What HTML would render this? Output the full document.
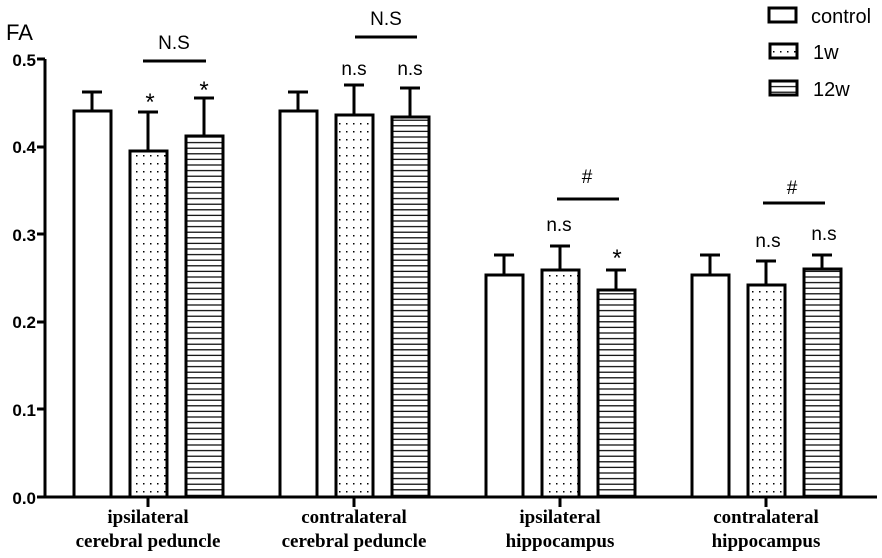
<!DOCTYPE html>
<html><head><style>body{margin:0;background:#fff}svg{display:block}</style></head><body>
<svg width="882" height="558" viewBox="0 0 882 558" xmlns="http://www.w3.org/2000/svg">
<defs>
<pattern id="dots" width="7" height="8" patternUnits="userSpaceOnUse"><rect width="7" height="8" fill="#fff"/><rect x="3" y="3" width="1.5" height="1.5" fill="#000"/></pattern>
<pattern id="stripes" width="8" height="5.6" patternUnits="userSpaceOnUse"><rect width="8" height="5.6" fill="#fff"/><rect y="2" width="8" height="1.2" fill="#000"/></pattern>
</defs>
<g font-family="Liberation Sans, Arial, sans-serif" fill="#000">
<text x="6" y="40" font-size="22">FA</text>
<g font-size="17" font-weight="bold" text-anchor="end">
<text x="36" y="66">0.5</text><text x="36" y="153">0.4</text><text x="36" y="241">0.3</text><text x="36" y="328">0.2</text><text x="36" y="416">0.1</text><text x="36" y="504">0.0</text>
</g>
</g>
<g stroke="#000" stroke-width="3" fill="none">
<path d="M45 59V497H877"/>
<path d="M37 59H45M37 147H45M37 234H45M37 322H45M37 409H45M37 497H45"/>
<path d="M148 497V507M354 497V507M560 497V507M766 497V507"/>
</g>
<g stroke="#000" stroke-width="3">
<path d="M92 111V92M82 92H102 M148 151V112M138 112H158 M204 136V98M194 98H214
M298 111V92M288 92H308 M354 115V85M344 85H364 M410 117V88M400 88H420
M504 275V255M494 255H514 M560 270V246M550 246H570 M616 290V270M606 270H626
M710 275V255M700 255H720 M766 285V261M756 261H776 M822 269V255M812 255H832"/>
<rect x="74" y="111" width="37" height="386" fill="#fff"/>
<rect x="130" y="151" width="37" height="346" fill="url(#dots)"/>
<rect x="186" y="136" width="37" height="361" fill="url(#stripes)"/>
<rect x="280" y="111" width="37" height="386" fill="#fff"/>
<rect x="336" y="115" width="37" height="382" fill="url(#dots)"/>
<rect x="392" y="117" width="37" height="380" fill="url(#stripes)"/>
<rect x="486" y="275" width="37" height="222" fill="#fff"/>
<rect x="542" y="270" width="37" height="227" fill="url(#dots)"/>
<rect x="598" y="290" width="37" height="207" fill="url(#stripes)"/>
<rect x="692" y="275" width="37" height="222" fill="#fff"/>
<rect x="748" y="285" width="37" height="212" fill="url(#dots)"/>
<rect x="804" y="269" width="37" height="228" fill="url(#stripes)"/>
<path d="M143 61H206M355 37H417M557 199H619M763 203H825"/>
<rect x="769" y="8" width="27" height="14" fill="#fff"/>
<rect x="770" y="44" width="27" height="14" fill="url(#dots)"/>
<rect x="770" y="81" width="27" height="14" fill="url(#stripes)"/>
</g>
<g font-family="Liberation Sans, Arial, sans-serif" font-size="19" fill="#000" text-anchor="middle">
<text x="174" y="49">N.S</text>
<text x="386" y="25">N.S</text>
<text x="587" y="183">#</text>
<text x="792" y="194">#</text>
<text x="150" y="110" font-size="24">*</text>
<text x="204" y="98" font-size="24">*</text>
<text x="617" y="266" font-size="24">*</text>
<text x="354" y="75">n.s</text>
<text x="410" y="75">n.s</text>
<text x="559" y="231">n.s</text>
<text x="768" y="247">n.s</text>
<text x="824" y="240">n.s</text>
<g text-anchor="start" font-size="20"><text x="811" y="23">control</text><text x="813" y="59">1w</text><text x="813" y="96">12w</text></g>
</g>
<g font-family="Liberation Serif, serif" font-size="19" font-weight="bold" text-anchor="middle" fill="#000">
<text x="148" y="523">ipsilateral</text><text x="148" y="547">cerebral peduncle</text>
<text x="354" y="523">contralateral</text><text x="354" y="547">cerebral peduncle</text>
<text x="560" y="523">ipsilateral</text><text x="560" y="547">hippocampus</text>
<text x="766" y="523">contralateral</text><text x="766" y="547">hippocampus</text>
</g>
</svg>
</body></html>
